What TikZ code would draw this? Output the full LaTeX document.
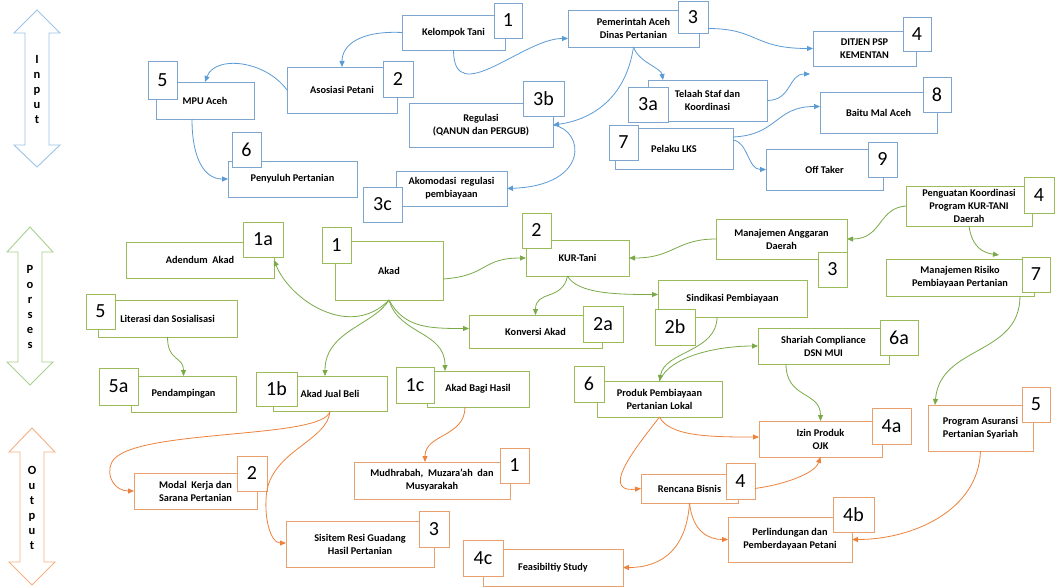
\documentclass[tikz,border=0pt]{standalone}
\usepackage{fontspec}
\setmainfont{Carlito}
\usetikzlibrary{calc,arrows.meta}
\definecolor{bbox}{RGB}{126,165,206}
\definecolor{bline}{RGB}{91,155,213}
\definecolor{barr}{RGB}{157,195,230}
\definecolor{gbox}{RGB}{155,187,89}
\definecolor{gline}{RGB}{122,170,72}
\definecolor{garr}{RGB}{169,209,142}
\definecolor{obox}{RGB}{232,160,110}
\definecolor{oline}{RGB}{237,130,60}
\definecolor{oarr}{RGB}{244,177,131}
\tikzset{
  mb/.style={rectangle, fill=white, inner sep=0pt, outer sep=0pt, align=center,
    font=\bfseries\fontsize{10.3}{13}\selectfont, line width=0.8pt},
  nb/.style={rectangle, fill=white, inner sep=0pt, outer sep=0pt,
    font=\fontsize{20}{20}\selectfont, line width=0.8pt},
  con/.style={line width=0.8pt, -{Triangle[length=6pt,width=5pt]}},
  bcon/.style={con, draw=bline},
  gcon/.style={con, draw=gline},
  ocon/.style={con, draw=oline},
  side/.style={line width=0.9pt, fill=white},
  sidetxt/.style={align=center, font=\bfseries\fontsize{12.5}{15}\selectfont, inner sep=0pt},
}
\newcommand\bxmain[7]{\node[mb,draw=#6,minimum width={#4pt-#2pt},minimum height={#5pt-#3pt}] (#1) at ({(#2+#4)/2},{(#3+#5)/2}) {#7};}
\newcommand\bxnum[7]{\node[nb,draw=#6,minimum width={#4pt-#2pt},minimum height={#5pt-#3pt}] (#1) at ({(#2+#4)/2},{(#3+#5)/2}) {#7};}
\newcommand\dblarrow[8]{% color, c, T, b1, b2, B, h, s
  \draw[side, draw=#1] (#2,#3) -- ({#2+#7},#4) -- ({#2+#8},#4) -- ({#2+#8},#5) -- ({#2+#7},#5) -- (#2,#6)
   -- ({#2-#7},#5) -- ({#2-#8},#5) -- ({#2-#8},#4) -- ({#2-#7},#4) -- cycle;}
\begin{document}
\begin{tikzpicture}[x=1pt,y=-1pt]
\useasboundingbox[fill=white] (0,0) rectangle (1059,588);

% side arrows
\dblarrow{barr}{37}{10}{33}{145}{167}{23}{12}
\node[sidetxt] (tin) at (37,89) {I\\n\\p\\u\\t};
\dblarrow{garr}{30}{227}{252}{362}{385}{23}{12}
\node[sidetxt] (tpr) at (30,307) {P\\o\\r\\s\\e\\s};
\dblarrow{oarr}{32}{428}{452}{562}{585}{23}{12}
\node[sidetxt] (tou) at (32,508) {O\\u\\t\\p\\u\\t};

% ---------- Input ----------
\bxmain{kt}{402}{15}{505}{50}{bbox}{Kelompok Tani}
\bxnum{nkt}{494}{3}{522}{38}{bbox}{1}
\bxmain{as}{287}{67}{397}{113}{bbox}{Asosiasi Petani}
\bxnum{nas}{383}{61}{413}{97}{bbox}{2}
\bxmain{mpu}{156}{82}{254}{119}{bbox}{MPU Aceh}
\bxnum{nmpu}{148}{61}{177}{99}{bbox}{5}
\bxmain{pp}{228}{161}{357}{197}{bbox}{Penyuluh Pertanian}
\bxnum{npp}{232}{132}{261}{167}{bbox}{6}
\bxmain{pa}{568}{10}{699}{47}{bbox}{Pemerintah Aceh\\Dinas Pertanian}
\bxnum{npa}{678}{1}{708}{33}{bbox}{3}
\bxmain{reg}{409}{103}{553}{147}{bbox}{Regulasi\\(QANUN dan PERGUB)}
\bxnum{nreg}{523}{81}{564}{116}{bbox}{3b}
\bxmain{ako}{396}{171}{507}{206}{bbox}{Akomodasi\ \ regulasi\\pembiayaan}
\bxnum{nako}{363}{187}{402}{222}{bbox}{3c}
\bxmain{ts}{648}{80}{767}{121}{bbox}{Telaah Staf dan\\Koordinasi}
\bxnum{nts}{628}{87}{668}{122}{bbox}{3a}
\bxmain{lks}{615}{128}{733}{169}{bbox}{Pelaku LKS}
\bxnum{nlks}{609}{125}{638}{160}{bbox}{7}
\bxmain{ot}{766}{149}{883}{190}{bbox}{Off Taker}
\bxnum{not}{868}{142}{897}{177}{bbox}{9}
\bxmain{bm}{820}{92}{937}{133}{bbox}{Baitu Mal Aceh}
\bxnum{nbm}{923}{77}{951}{112}{bbox}{8}
\bxmain{dj}{813}{31}{916}{66}{bbox}{DITJEN PSP\\KEMENTAN}
\bxnum{ndj}{903}{17}{931}{51}{bbox}{4}

% ---------- Porses ----------
\bxmain{ad}{126}{242}{274}{278}{gbox}{Adendum\ \ Akad}
\bxnum{nad}{243}{222}{283}{257}{gbox}{1a}
\bxmain{lit}{98}{300}{237}{337}{gbox}{Literasi dan Sosialisasi}
\bxnum{nlit}{86}{294}{115}{329}{gbox}{5}
\bxmain{pd}{131}{376}{236}{412}{gbox}{Pendampingan}
\bxnum{npd}{99}{368}{138}{405}{gbox}{5a}
\bxmain{ajb}{273}{376}{387}{411}{gbox}{Akad Jual Beli}
\bxnum{najb}{256}{372}{297}{406}{gbox}{1b}
\bxmain{akad}{335}{241}{443}{300}{gbox}{Akad}
\bxnum{nakad}{322}{227}{351}{263}{gbox}{1}
\bxmain{abh}{427}{371}{529}{407}{gbox}{Akad Bagi Hasil}
\bxnum{nabh}{396}{367}{434}{403}{gbox}{1c}
\bxmain{ka}{469}{315}{602}{348}{gbox}{Konversi Akad}
\bxnum{nka}{583}{306}{623}{342}{gbox}{2a}
\bxmain{kur}{526}{240}{629}{276}{gbox}{KUR-Tani}
\bxnum{nkur}{522}{213}{551}{248}{gbox}{2}
\bxmain{sp}{658}{280}{807}{317}{gbox}{Sindikasi Pembiayaan}
\bxnum{nsp}{655}{309}{695}{345}{gbox}{2b}
\bxmain{maa}{716}{219}{847}{259}{gbox}{Manajemen Anggaran\\Daerah}
\bxnum{nmaa}{818}{252}{847}{287}{gbox}{3}
\bxmain{pk}{906}{186}{1032}{226}{gbox}{Penguatan Koordinasi\\Program KUR-TANI\\Daerah}
\bxnum{npk}{1024}{177}{1054}{213}{gbox}{4}
\bxmain{mr}{886}{259}{1034}{296}{gbox}{Manajemen Risiko\\Pembiayaan Pertanian}
\bxnum{nmr}{1022}{257}{1050}{292}{gbox}{7}
\bxmain{sc}{758}{328}{889}{364}{gbox}{Shariah Compliance\\DSN MUI}
\bxnum{nsc}{880}{320}{918}{355}{gbox}{6a}
\bxmain{ppl}{597}{381}{722}{417}{gbox}{Produk Pembiayaan\\Pertanian Lokal}
\bxnum{nppl}{574}{366}{604}{402}{gbox}{6}

% ---------- Output ----------
\bxmain{izin}{759}{421}{882}{457}{obox}{Izin Produk\\OJK}
\bxnum{nizin}{872}{408}{911}{444}{obox}{4a}
\bxmain{pas}{928}{405}{1033}{451}{obox}{Program Asuransi\\Pertanian Syariah}
\bxnum{npas}{1022}{387}{1050}{422}{obox}{5}
\bxmain{rb}{641}{474}{738}{503}{obox}{Rencana Bisnis}
\bxnum{nrb}{726}{463}{755}{499}{obox}{4}
\bxmain{pl}{728}{517}{852}{562}{obox}{Perlindungan dan\\Pemberdayaan Petani}
\bxnum{npl}{833}{497}{874}{532}{obox}{4b}
\bxmain{mud}{354}{462}{510}{499}{obox}{Mudhrabah,\ \ Muzara’ah\ \ dan\\Musyarakah}
\bxnum{nmud}{500}{448}{529}{483}{obox}{1}
\bxmain{mk}{134}{473}{257}{509}{obox}{Modal\ \ Kerja dan\\Sarana Pertanian}
\bxnum{nmk}{237}{456}{267}{491}{obox}{2}
\bxmain{sr}{286}{521}{434}{567}{obox}{Sisitem Resi Guadang\\Hasil Pertanian}
\bxnum{nsr}{419}{511}{449}{547}{obox}{3}
\bxmain{fs}{483}{549}{623}{586}{obox}{Feasibiltiy Study}
\bxnum{nfs}{463}{540}{503}{576}{obox}{4c}

% ---------- blue connectors ----------
\coordinate (tsend) at (810,74);
\draw[bcon] (kt.west) .. controls +(-42,-2) and +(0,-22) .. (as.north);
\draw[bcon] (as.west) .. controls +(-22,-30) and +(10,-27) .. (mpu.north);
\draw[bcon] ($(mpu.south)+(-13,0)$) .. controls +(0,41) and +(-23,0) .. (pp.west);
\draw[bcon] (kt.south) .. controls +(0,60) and +(-45,0) .. ($(pa.west)+(0,10)$);
\draw[bcon] (npa.east |- pa.east) .. controls +(50,0) and +(-60,0) .. (dj.west);
\draw[bcon] (pa.south) .. controls +(5,15) and +(-2,-12) .. ($(ts.north west)+(15,0)$);
\draw[bcon] (pa.south) .. controls +(-8,53) and +(37,-5) .. (reg.east);
\draw[bcon] (reg.east) .. controls +(32,5) and +(83,-3) .. (ako.east);
\draw[bcon] (ts.east) .. controls +(25,0) and +(-22,0) .. (tsend);
\draw[bcon] ($(lks.north east)+(0,9)$) .. controls +(45,-2) and +(-45,0) .. ($(bm.west)+(0,-6)$);
\draw[bcon] ($(lks.north east)+(0,12)$) .. controls +(15,2) and +(-18,0) .. (ot.west);

% ---------- green connectors ----------
\draw[gcon] (pk.west) .. controls +(-28,2) and +(35,0) .. (maa.east);
\draw[gcon] (pk.south) .. controls +(3,22) and +(-15,-2) .. ($(mr.north west)+(113,-4)$);
\draw[gcon] (maa.west) .. controls +(-40,0) and +(45,0) .. (kur.east);
\draw[gcon] ($(akad.east)+(0,8.5)$) .. controls +(45,-3) and +(-45,0) .. (kur.west);
\draw[gcon] ($(kur.south)+(-10,0)$) .. controls +(-5,25) and +(0,-25) .. (ka.north);
\draw[gcon] ($(kur.south)+(-10,0)$) .. controls +(10,18) and +(-40,0) .. ($(sp.west)+(0,-4)$);
\draw[gcon] (akad.south) .. controls +(-39,40) and +(16,40) .. (ad.east);
\draw[gcon] (akad.south) .. controls +(15,28) and +(-40,0) .. ($(ka.west)+(0,-3)$);
\draw[gcon] (akad.south) .. controls +(-15,25) and +(0,-45) .. ($(ajb.north)+(-5,0)$);
\draw[gcon] (akad.south) .. controls +(10,35) and +(0,-40) .. ($(abh.north west)+(18,0)$);
\draw[gcon] (lit.south) .. controls +(0,25) and +(0,-20) .. (pd.north);
\draw[gcon] ($(sp.south)+(-15.5,0)$) .. controls +(0,35) and +(5,-30) .. (ppl.north);
\draw[gcon] (ppl.north) .. controls +(10,-25) and +(-40,0) .. (sc.west);
\draw[gcon] ($(sc.south)+(-37.5,0)$) .. controls +(0,35) and +(0,-30) .. (izin.north);
\draw[gcon] ($(mr.south east)+(-14,0)$) .. controls +(0,60) and +(5,-60) .. ($(pas.north west)+(7,0)$);

% ---------- orange connectors ----------
\draw[ocon] (ajb.south) .. controls +(-5,29) and +(18,-34) .. (112,462) .. controls +(-7,14) and +(-19,0) .. (mk.west);
\draw[ocon] (ajb.south) .. controls +(-2,29) and +(8,-40) .. (267,490) .. controls +(-4,25) and +(-16,0) .. ($(sr.west)+(0,-1)$);
\draw[ocon] ($(abh.south)+(-13,0)$) .. controls +(0,30) and +(0,-28) .. ($(mud.north)+(-7,0)$);
\draw[ocon] (ppl.south) .. controls +(10,20) and +(-45,0) .. ($(izin.west)+(0,-2)$);
\draw[ocon] (ppl.south) .. controls +(-15,20) and +(-45,5) .. (rb.west);
\draw[ocon] (nrb.east |- rb.east) .. controls +(35,-5) and +(-5,15) .. (izin.south);
\draw[ocon] (rb.south) .. controls +(-3,45) and +(40,0) .. (fs.east);
\draw[ocon] (rb.south) .. controls +(3,28) and +(-20,0) .. (pl.west);
\draw[ocon] (pas.south) .. controls +(-2,60) and +(60,0) .. (pl.east);
\end{tikzpicture}
\end{document}
